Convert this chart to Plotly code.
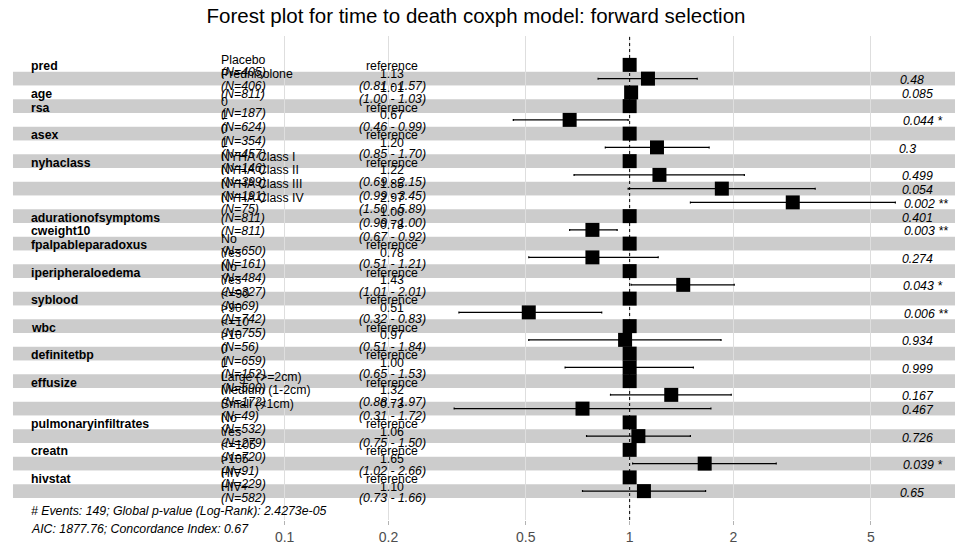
import math
import plotly.graph_objects as go

# ---------------- data ----------------
title_text = "Forest plot for time to death coxph model: forward selection"

variables = ["pred", "", "age", "rsa", "", "asex", "", "nyhaclass", "", "", "",
             "adurationofsymptoms", "cweight10", "fpalpableparadoxus", "",
             "iperipheraloedema", "", "syblood", "", "wbc", "", "definitetbp", "",
             "effusize", "", "", "pulmonaryinfiltrates", "", "creatn", "", "hivstat", ""]
levels = ["Placebo", "Prednisolone", "", "0", "1", "0", "1",
          "NYHA Class I", "NYHA Class II", "NYHA Class III", "NYHA Class IV",
          "", "", "No", "Yes", "No", "Yes", "<=90", ">90", "<=10", ">10", "0", "1",
          "Large (>=2cm)", "Medium (1-2cm)", "Small (<1cm)", "No", "Yes",
          "<=105", ">105", "HIV-", "HIV+"]
n_obs = [405, 406, 811, 187, 624, 354, 457, 146, 399, 191, 75, 811, 811, 650, 161,
         484, 327, 69, 742, 755, 56, 659, 152, 590, 172, 49, 532, 279, 720, 91, 229, 582]
hazard_ratio = [None, 1.13, 1.01, None, 0.67, None, 1.20, None, 1.22, 1.85, 2.97,
                1.00, 0.78, None, 0.78, None, 1.43, None, 0.51, None, 0.97, None, 1.00,
                None, 1.32, 0.73, None, 1.06, None, 1.65, None, 1.10]
ci_low = [None, 0.81, 1.00, None, 0.46, None, 0.85, None, 0.69, 0.99, 1.50,
          0.99, 0.67, None, 0.51, None, 1.01, None, 0.32, None, 0.51, None, 0.65,
          None, 0.88, 0.31, None, 0.75, None, 1.02, None, 0.73]
ci_high = [None, 1.57, 1.03, None, 0.99, None, 1.70, None, 2.15, 3.45, 5.89,
           1.00, 0.92, None, 1.21, None, 2.01, None, 0.83, None, 1.84, None, 1.53,
           None, 1.97, 1.72, None, 1.50, None, 2.66, None, 1.66]
p_values = ["", "0.48", "0.085", "", "0.044", "", "0.3", "", "0.499", "0.054", "0.002",
            "0.401", "0.003", "", "0.274", "", "0.043", "", "0.006", "", "0.934", "", "0.999",
            "", "0.167", "0.467", "", "0.726", "", "0.039", "", "0.65"]
stars = ["", "", "", "", "*", "", "", "", "", "", "**",
         "", "**", "", "", "", "*", "", "**", "", "", "", "",
         "", "", "", "", "", "", "*", "", ""]
x_tick_values = [0.1, 0.2, 0.5, 1, 2, 5]
x_tick_labels = ["0.1", "0.2", "0.5", "1", "2", "5"]
n_events = 149
global_p = "2.4273e-05"
aic_value = 1877.76
concordance = 0.67

# ---------------- layout constants ----------------
FONT = "Liberation Sans, Arial, sans-serif"
ANN = 12.3
XMIN, XMAX = -1.825, 0.943      # log10 range of the axis
n_rows = len(levels)
YMIN, YMAX = -1.1, n_rows + 2.1

# column positions like ggforest (log space)
lows = [math.log(v) for v in ci_low if v is not None]
highs = [math.log(v) for v in ci_high if v is not None]
rb0, rb1 = min(lows), max(highs)
d = rb1 - rb0
rp0, rp1 = rb0 - d, rb1 + 0.15 * d
w = rp1 - rp0
col_var = (rp0 + 0.02 * w) / math.log(10)
col_level = (rp0 + 0.22 * w) / math.log(10)
col_est = (rp0 + 0.40 * w) / math.log(10)
col_p = rb1 / math.log(10)

def paper_x(l10):
    return max(0.0, min(1.0, (l10 - XMIN) / (XMAX - XMIN)))

CW = {'.': .278, ' ': .278, '*': .389}
def text_w(s):
    return sum(CW.get(c, .556) for c in s) * ANN

ypos = [n_rows - i for i in range(n_rows)]

fig = go.Figure()
shapes = []
for i, y in enumerate(ypos):
    fill = "rgba(0,0,0,0.2)" if y % 2 == 1 else "rgba(255,255,255,0.2)"
    shapes.append(dict(type="rect", xref="paper", yref="y",
                       x0=paper_x(rp0 / math.log(10)), x1=paper_x(rp1 / math.log(10)),
                       y0=y - 0.5, y1=y + 0.5, fillcolor=fill, line=dict(width=0),
                       layer="between"))

# reference squares
ref_y = [y for y, h in zip(ypos, hazard_ratio) if h is None]
fig.add_trace(go.Scatter(x=[1] * len(ref_y), y=ref_y, mode="markers",
                         marker=dict(symbol="square", size=14, color="black"),
                         hoverinfo="skip", showlegend=False))
# estimates with CI
est_y = [y for y, h in zip(ypos, hazard_ratio) if h is not None]
est_x = [h for h in hazard_ratio if h is not None]
err_p = [hi - h for h, hi in zip(hazard_ratio, ci_high) if h is not None]
err_m = [h - lo for h, lo in zip(hazard_ratio, ci_low) if h is not None]
fig.add_trace(go.Scatter(x=est_x, y=est_y, mode="markers",
                         marker=dict(symbol="square", size=14, color="black"),
                         error_x=dict(type="data", symmetric=False, array=err_p,
                                      arrayminus=err_m, color="black",
                                      thickness=1.2, width=1),
                         hoverinfo="skip", showlegend=False))
# dotted line at 1
fig.add_trace(go.Scatter(x=[1, 1], y=[YMIN, YMAX], mode="lines",
                         line=dict(color="black", width=1, dash="dot"),
                         hoverinfo="skip", showlegend=False))

anns = []
def add(x, y, text, anchor="left", shift=0, xshift=0):
    if anchor == "left":
        xshift -= 3
    anns.append(dict(x=x, y=y, xref="x", yref="y", text=text, showarrow=False,
                     xanchor=anchor, yanchor="middle", yshift=shift, xshift=xshift,
                     font=dict(family=FONT, size=ANN, color="black")))

S_CEN, S_UP, S_DN = -1.5, 4.5, -7.0
for i, y in enumerate(ypos):
    if variables[i]:
        add(col_var, y, "<b>%s</b>" % variables[i], "left", S_CEN)
    if levels[i]:
        add(col_level, y, levels[i].replace("<", "&lt;").replace(">", "&gt;"), "left", S_UP)
        add(col_level, y, "<i>(N=%d)</i>" % n_obs[i], "left", S_DN)
    else:
        add(col_level, y, "<i>(N=%d)</i>" % n_obs[i], "left", S_CEN)
    if hazard_ratio[i] is None:
        add(col_est, y, "reference", "center", S_CEN)
    else:
        add(col_est, y, "%.2f" % hazard_ratio[i], "center", S_UP)
        add(col_est, y, "<i>(%.2f - %.2f)</i>" % (ci_low[i], ci_high[i]), "center", S_DN)
    if p_values[i]:
        lab = p_values[i] + (" " + stars[i] if stars[i] else "")
        add(col_p, y, "<i>%s</i>" % lab, "left", S_CEN, xshift=0.2 * text_w(lab) + 1)

add(col_var, 0.5, "<i># Events: %d; Global p-value (Log-Rank): %s </i>" % (n_events, global_p),
    "left", -13)
add(col_var, 0.5, "<i>AIC: %.2f; Concordance Index: %.2f</i>" % (aic_value, concordance),
    "left", -31)

fig.update_layout(
    width=955, height=548,
    margin=dict(l=0, r=0, t=36, b=28, pad=0),
    paper_bgcolor="white", plot_bgcolor="white",
    shapes=shapes, annotations=anns,
    title=dict(text=title_text, x=476 / 955, xanchor="center", xref="paper",
               y=1 - 16 / 548, yref="container", yanchor="middle",
               font=dict(family=FONT, size=20.5, color="black")),
    xaxis=dict(type="log", range=[XMIN, XMAX], tickvals=x_tick_values,
               ticktext=x_tick_labels, showgrid=True, gridcolor="#DEDEDE",
               gridwidth=1, zeroline=False, showline=False, ticks="outside",
               ticklen=4, tickcolor="#B3B3B3", ticklabelstandoff=0,
               tickfont=dict(family=FONT, size=14, color="#4D4D4D")),
    yaxis=dict(range=[YMIN, YMAX], visible=False, showgrid=False, zeroline=False),
)

fig.write_html("out.html")
